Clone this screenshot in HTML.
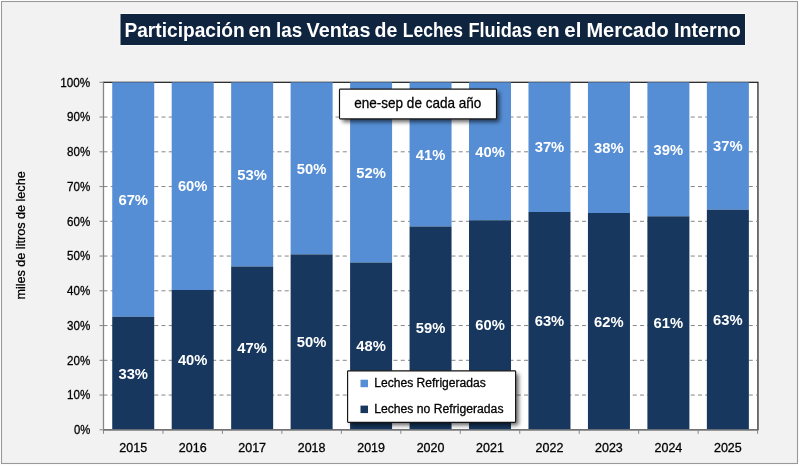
<!DOCTYPE html>
<html lang="es"><head><meta charset="utf-8"><title>Participación en las Ventas de Leches Fluidas en el Mercado Interno</title>
<style>html,body{margin:0;padding:0;background:#fff;}body{width:800px;height:466px;overflow:hidden;}svg{display:block;}text{font-family:"Liberation Sans", sans-serif;}.r text,text.r{stroke:#000;stroke-width:0.28px;paint-order:stroke fill;}</style>
</head><body>
<svg width="800" height="466" viewBox="0 0 800 466">
<defs><filter id="sh" x="-10%" y="-20%" width="125%" height="150%"><feGaussianBlur in="SourceAlpha" stdDeviation="2.1"/><feOffset dx="2.6" dy="2.6"/><feComponentTransfer><feFuncA type="linear" slope="0.62"/></feComponentTransfer></filter></defs>
<rect x="0" y="0" width="800" height="466" fill="#fff"/>
<rect x="1.5" y="1.5" width="796" height="462" fill="#F2F2F2" stroke="#999" stroke-width="1.1"/>
<rect x="119.6" y="13.1" width="626.3" height="32.8" fill="#fafafa"/>
<rect x="120.5" y="14" width="624.5" height="31" fill="#0F243E"/>
<g font-weight="bold" font-size="19.4" fill="#fff">
<text x="124.45" y="37.1" textLength="120.30" lengthAdjust="spacingAndGlyphs">Participación</text>
<text x="248.40" y="37.1" textLength="23.05" lengthAdjust="spacingAndGlyphs">en</text>
<text x="275.95" y="37.1" textLength="26.25" lengthAdjust="spacingAndGlyphs">las</text>
<text x="306.60" y="37.1" textLength="63.80" lengthAdjust="spacingAndGlyphs">Ventas</text>
<text x="374.60" y="37.1" textLength="22.80" lengthAdjust="spacingAndGlyphs">de</text>
<text x="402.75" y="37.1" textLength="60.30" lengthAdjust="spacingAndGlyphs">Leches</text>
<text x="468.50" y="37.1" textLength="63.50" lengthAdjust="spacingAndGlyphs">Fluidas</text>
<text x="536.50" y="37.1" textLength="23.10" lengthAdjust="spacingAndGlyphs">en</text>
<text x="564.25" y="37.1" textLength="17.10" lengthAdjust="spacingAndGlyphs">el</text>
<text x="586.45" y="37.1" textLength="82.15" lengthAdjust="spacingAndGlyphs">Mercado</text>
<text x="674.10" y="37.1" textLength="66.65" lengthAdjust="spacingAndGlyphs">Interno</text>
</g>
<rect x="103.50" y="82.30" width="654.45" height="347.50" fill="#fff" stroke="#111" stroke-width="1.15"/>
<line x1="103.50" y1="395.05" x2="757.60" y2="395.05" stroke="#868686" stroke-width="1" stroke-dasharray="4 3.25"/>
<line x1="103.50" y1="360.30" x2="757.60" y2="360.30" stroke="#868686" stroke-width="1" stroke-dasharray="4 3.25"/>
<line x1="103.50" y1="325.55" x2="757.60" y2="325.55" stroke="#868686" stroke-width="1" stroke-dasharray="4 3.25"/>
<line x1="103.50" y1="290.80" x2="757.60" y2="290.80" stroke="#868686" stroke-width="1" stroke-dasharray="4 3.25"/>
<line x1="103.50" y1="256.05" x2="757.60" y2="256.05" stroke="#868686" stroke-width="1" stroke-dasharray="4 3.25"/>
<line x1="103.50" y1="221.30" x2="757.60" y2="221.30" stroke="#868686" stroke-width="1" stroke-dasharray="4 3.25"/>
<line x1="103.50" y1="186.55" x2="757.60" y2="186.55" stroke="#868686" stroke-width="1" stroke-dasharray="4 3.25"/>
<line x1="103.50" y1="151.80" x2="757.60" y2="151.80" stroke="#868686" stroke-width="1" stroke-dasharray="4 3.25"/>
<line x1="103.50" y1="117.05" x2="757.60" y2="117.05" stroke="#868686" stroke-width="1" stroke-dasharray="4 3.25"/>
<rect x="112.23" y="82.30" width="42.00" height="234.45" fill="#558ED5"/>
<rect x="112.23" y="316.75" width="42.00" height="113.05" fill="#17375E"/>
<rect x="171.70" y="82.30" width="42.00" height="207.70" fill="#558ED5"/>
<rect x="171.70" y="290.00" width="42.00" height="139.80" fill="#17375E"/>
<rect x="231.16" y="82.30" width="42.00" height="184.20" fill="#558ED5"/>
<rect x="231.16" y="266.50" width="42.00" height="163.30" fill="#17375E"/>
<rect x="290.62" y="82.30" width="42.00" height="172.10" fill="#558ED5"/>
<rect x="290.62" y="254.40" width="42.00" height="175.40" fill="#17375E"/>
<rect x="350.09" y="82.30" width="42.00" height="180.20" fill="#558ED5"/>
<rect x="350.09" y="262.50" width="42.00" height="167.30" fill="#17375E"/>
<rect x="409.55" y="82.30" width="42.00" height="144.20" fill="#558ED5"/>
<rect x="409.55" y="226.50" width="42.00" height="203.30" fill="#17375E"/>
<rect x="469.01" y="82.30" width="42.00" height="137.95" fill="#558ED5"/>
<rect x="469.01" y="220.25" width="42.00" height="209.55" fill="#17375E"/>
<rect x="528.48" y="82.30" width="42.00" height="129.70" fill="#558ED5"/>
<rect x="528.48" y="212.00" width="42.00" height="217.80" fill="#17375E"/>
<rect x="587.94" y="82.30" width="42.00" height="130.70" fill="#558ED5"/>
<rect x="587.94" y="213.00" width="42.00" height="216.80" fill="#17375E"/>
<rect x="647.40" y="82.30" width="42.00" height="134.00" fill="#558ED5"/>
<rect x="647.40" y="216.30" width="42.00" height="213.50" fill="#17375E"/>
<rect x="706.87" y="82.30" width="42.00" height="127.45" fill="#558ED5"/>
<rect x="706.87" y="209.75" width="42.00" height="220.05" fill="#17375E"/>
<line x1="103.50" y1="82.30" x2="103.50" y2="433.80" stroke="#868686" stroke-width="1"/>
<line x1="99.50" y1="429.80" x2="757.60" y2="429.80" stroke="#868686" stroke-width="1"/>
<line x1="99.50" y1="395.05" x2="103.50" y2="395.05" stroke="#868686" stroke-width="1"/>
<line x1="99.50" y1="360.30" x2="103.50" y2="360.30" stroke="#868686" stroke-width="1"/>
<line x1="99.50" y1="325.55" x2="103.50" y2="325.55" stroke="#868686" stroke-width="1"/>
<line x1="99.50" y1="290.80" x2="103.50" y2="290.80" stroke="#868686" stroke-width="1"/>
<line x1="99.50" y1="256.05" x2="103.50" y2="256.05" stroke="#868686" stroke-width="1"/>
<line x1="99.50" y1="221.30" x2="103.50" y2="221.30" stroke="#868686" stroke-width="1"/>
<line x1="99.50" y1="186.55" x2="103.50" y2="186.55" stroke="#868686" stroke-width="1"/>
<line x1="99.50" y1="151.80" x2="103.50" y2="151.80" stroke="#868686" stroke-width="1"/>
<line x1="99.50" y1="117.05" x2="103.50" y2="117.05" stroke="#868686" stroke-width="1"/>
<line x1="99.50" y1="82.30" x2="103.50" y2="82.30" stroke="#868686" stroke-width="1"/>
<line x1="162.96" y1="429.80" x2="162.96" y2="433.80" stroke="#868686" stroke-width="1"/>
<line x1="222.43" y1="429.80" x2="222.43" y2="433.80" stroke="#868686" stroke-width="1"/>
<line x1="281.89" y1="429.80" x2="281.89" y2="433.80" stroke="#868686" stroke-width="1"/>
<line x1="341.35" y1="429.80" x2="341.35" y2="433.80" stroke="#868686" stroke-width="1"/>
<line x1="400.82" y1="429.80" x2="400.82" y2="433.80" stroke="#868686" stroke-width="1"/>
<line x1="460.28" y1="429.80" x2="460.28" y2="433.80" stroke="#868686" stroke-width="1"/>
<line x1="519.75" y1="429.80" x2="519.75" y2="433.80" stroke="#868686" stroke-width="1"/>
<line x1="579.21" y1="429.80" x2="579.21" y2="433.80" stroke="#868686" stroke-width="1"/>
<line x1="638.67" y1="429.80" x2="638.67" y2="433.80" stroke="#868686" stroke-width="1"/>
<line x1="698.14" y1="429.80" x2="698.14" y2="433.80" stroke="#868686" stroke-width="1"/>
<line x1="757.60" y1="429.80" x2="757.60" y2="433.80" stroke="#868686" stroke-width="1"/>
<g class="r" font-size="12.1" fill="#000" text-anchor="end">
<text x="90.2" y="434.00" textLength="16.30" lengthAdjust="spacingAndGlyphs">0%</text>
<text x="90.2" y="399.25" textLength="23.20" lengthAdjust="spacingAndGlyphs">10%</text>
<text x="90.2" y="364.50" textLength="23.20" lengthAdjust="spacingAndGlyphs">20%</text>
<text x="90.2" y="329.75" textLength="23.20" lengthAdjust="spacingAndGlyphs">30%</text>
<text x="90.2" y="295.00" textLength="23.20" lengthAdjust="spacingAndGlyphs">40%</text>
<text x="90.2" y="260.25" textLength="23.20" lengthAdjust="spacingAndGlyphs">50%</text>
<text x="90.2" y="225.50" textLength="23.20" lengthAdjust="spacingAndGlyphs">60%</text>
<text x="90.2" y="190.75" textLength="23.20" lengthAdjust="spacingAndGlyphs">70%</text>
<text x="90.2" y="156.00" textLength="23.20" lengthAdjust="spacingAndGlyphs">80%</text>
<text x="90.2" y="121.25" textLength="23.20" lengthAdjust="spacingAndGlyphs">90%</text>
<text x="90.2" y="86.50" textLength="30.00" lengthAdjust="spacingAndGlyphs">100%</text>
</g>
<g class="r" font-size="12.2" fill="#000" text-anchor="middle">
<text x="133.23" y="451.6" textLength="27.8" lengthAdjust="spacingAndGlyphs">2015</text>
<text x="192.70" y="451.6" textLength="27.8" lengthAdjust="spacingAndGlyphs">2016</text>
<text x="252.16" y="451.6" textLength="27.8" lengthAdjust="spacingAndGlyphs">2017</text>
<text x="311.62" y="451.6" textLength="27.8" lengthAdjust="spacingAndGlyphs">2018</text>
<text x="371.09" y="451.6" textLength="27.8" lengthAdjust="spacingAndGlyphs">2019</text>
<text x="430.55" y="451.6" textLength="27.8" lengthAdjust="spacingAndGlyphs">2020</text>
<text x="490.01" y="451.6" textLength="27.8" lengthAdjust="spacingAndGlyphs">2021</text>
<text x="549.48" y="451.6" textLength="27.8" lengthAdjust="spacingAndGlyphs">2022</text>
<text x="608.94" y="451.6" textLength="27.8" lengthAdjust="spacingAndGlyphs">2023</text>
<text x="668.40" y="451.6" textLength="27.8" lengthAdjust="spacingAndGlyphs">2024</text>
<text x="727.87" y="451.6" textLength="27.8" lengthAdjust="spacingAndGlyphs">2025</text>
</g>
<text class="r" transform="translate(25.0 299.6) rotate(-90)" font-size="12.3" fill="#000" textLength="128.3" lengthAdjust="spacingAndGlyphs">miles de litros de leche</text>
<g font-size="14.6" font-weight="bold" fill="#fff" text-anchor="middle">
<text x="133.23" y="204.78" textLength="29.6" lengthAdjust="spacingAndGlyphs">67%</text>
<text x="133.23" y="378.52" textLength="29.6" lengthAdjust="spacingAndGlyphs">33%</text>
<text x="192.70" y="191.40" textLength="29.6" lengthAdjust="spacingAndGlyphs">60%</text>
<text x="192.70" y="365.15" textLength="29.6" lengthAdjust="spacingAndGlyphs">40%</text>
<text x="252.16" y="179.65" textLength="29.6" lengthAdjust="spacingAndGlyphs">53%</text>
<text x="252.16" y="353.40" textLength="29.6" lengthAdjust="spacingAndGlyphs">47%</text>
<text x="311.62" y="173.60" textLength="29.6" lengthAdjust="spacingAndGlyphs">50%</text>
<text x="311.62" y="347.35" textLength="29.6" lengthAdjust="spacingAndGlyphs">50%</text>
<text x="371.09" y="177.65" textLength="29.6" lengthAdjust="spacingAndGlyphs">52%</text>
<text x="371.09" y="351.40" textLength="29.6" lengthAdjust="spacingAndGlyphs">48%</text>
<text x="430.55" y="159.65" textLength="29.6" lengthAdjust="spacingAndGlyphs">41%</text>
<text x="430.55" y="333.40" textLength="29.6" lengthAdjust="spacingAndGlyphs">59%</text>
<text x="490.01" y="156.53" textLength="29.6" lengthAdjust="spacingAndGlyphs">40%</text>
<text x="490.01" y="330.27" textLength="29.6" lengthAdjust="spacingAndGlyphs">60%</text>
<text x="549.48" y="152.40" textLength="29.6" lengthAdjust="spacingAndGlyphs">37%</text>
<text x="549.48" y="326.15" textLength="29.6" lengthAdjust="spacingAndGlyphs">63%</text>
<text x="608.94" y="152.90" textLength="29.6" lengthAdjust="spacingAndGlyphs">38%</text>
<text x="608.94" y="326.65" textLength="29.6" lengthAdjust="spacingAndGlyphs">62%</text>
<text x="668.40" y="154.55" textLength="29.6" lengthAdjust="spacingAndGlyphs">39%</text>
<text x="668.40" y="328.30" textLength="29.6" lengthAdjust="spacingAndGlyphs">61%</text>
<text x="727.87" y="151.28" textLength="29.6" lengthAdjust="spacingAndGlyphs">37%</text>
<text x="727.87" y="325.02" textLength="29.6" lengthAdjust="spacingAndGlyphs">63%</text>
</g>
<rect x="339.5" y="89.05" width="157" height="29.85" rx="0.8" fill="#000" filter="url(#sh)"/>
<rect x="339.5" y="89.05" width="157" height="29.85" rx="0.8" fill="#fff" stroke="#141414" stroke-width="1.15"/>
<text class="r" x="354.2" y="108.4" font-size="14.3" fill="#000" textLength="127.2" lengthAdjust="spacingAndGlyphs">ene-sep de cada año</text>
<rect x="347.6" y="370.8" width="168" height="51.5" rx="0.8" fill="#000" filter="url(#sh)"/>
<rect x="347.6" y="370.8" width="168" height="51.5" rx="0.8" fill="#fff" stroke="#141414" stroke-width="1.15"/>
<rect x="360.5" y="379.7" width="7.5" height="7.5" fill="#558ED5"/>
<rect x="360.5" y="405.6" width="7.5" height="7.5" fill="#17375E"/>
<text class="r" x="374.2" y="387.2" font-size="12" fill="#000" textLength="111.6" lengthAdjust="spacingAndGlyphs">Leches Refrigeradas</text>
<text class="r" x="374.2" y="412.7" font-size="12" fill="#000" textLength="129.3" lengthAdjust="spacingAndGlyphs">Leches no Refrigeradas</text>
</svg>
</body></html>
